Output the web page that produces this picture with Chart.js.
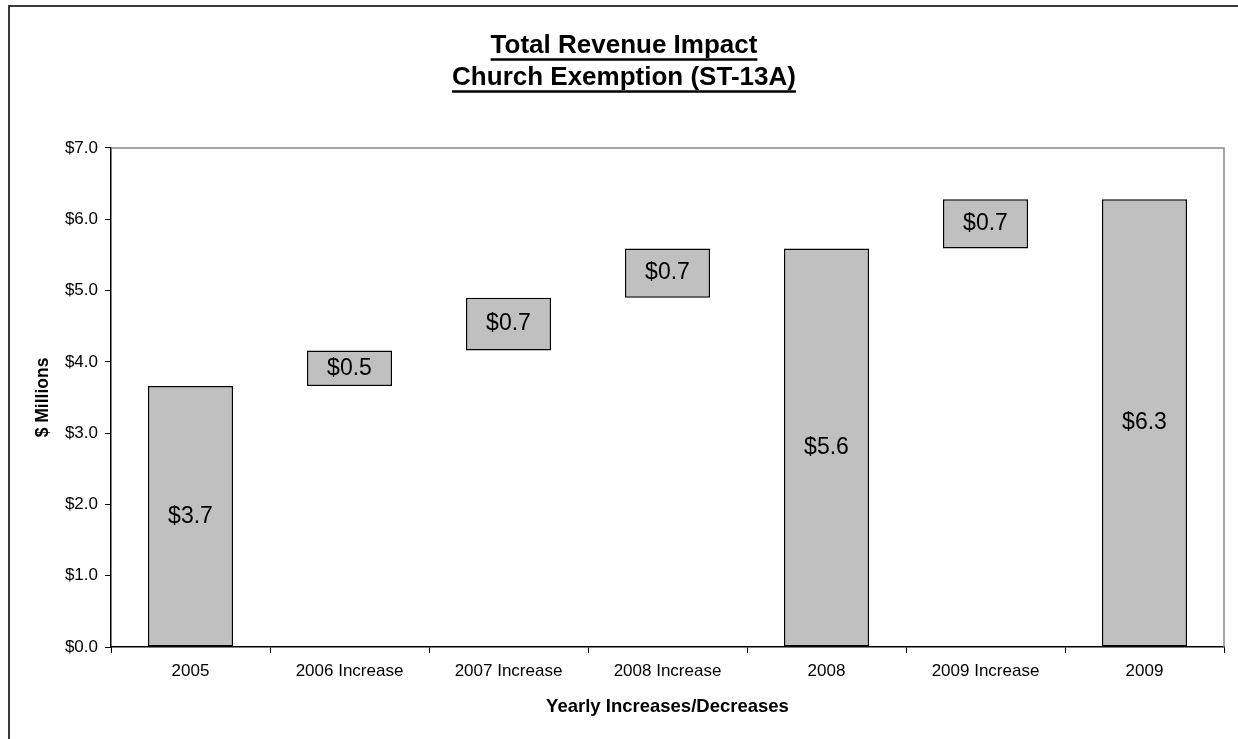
<!DOCTYPE html>
<html>
<head>
<meta charset="utf-8">
<title>Total Revenue Impact - Church Exemption (ST-13A)</title>
<script src="https://cdn.jsdelivr.net/npm/chart.js@4.4.1/dist/chart.umd.min.js"></script>
<style>
  html, body { margin: 0; padding: 0; background: #fff; }
  canvas { display: block; }
</style>
</head>
<body>
<canvas id="chart" width="1238" height="739"></canvas>
<script>
// categories of the waterfall
var categories = ["2005", "2006 Increase", "2007 Increase", "2008 Increase", "2008", "2009 Increase", "2009"];
// bottom and top of each bar, $ millions
var barBottoms = [0, 3.66, 4.16, 4.90, 0, 5.59, 0];
var barTops = [3.66, 4.16, 4.90, 5.59, 5.59, 6.28, 6.28];
var titleLines = ["Total Revenue Impact", "Church Exemption (ST-13A)"];

var FONT = "Arial, 'Liberation Sans', sans-serif";

var ranges = categories.map(function (c, i) { return [barBottoms[i], barTops[i]]; });

// frame around the whole chart + plot area border (top / right)
var framePlugin = {
  id: 'frame',
  beforeDraw: function (chart) {
    var ctx = chart.ctx;
    ctx.save();
    ctx.fillStyle = '#fff';
    ctx.fillRect(0, 0, chart.width, chart.height);
    ctx.strokeStyle = '#3a3a3a';
    ctx.lineWidth = 2;
    ctx.beginPath();
    ctx.moveTo(9, chart.height);
    ctx.lineTo(9, 6);
    ctx.lineTo(chart.width, 6);
    ctx.stroke();
    ctx.restore();
  },
  beforeDatasetsDraw: function (chart) {
    var a = chart.chartArea, ctx = chart.ctx;
    ctx.save();
    ctx.strokeStyle = '#888';
    ctx.lineWidth = 1.5;
    ctx.beginPath();
    ctx.moveTo(a.left, a.top);
    ctx.lineTo(a.right, a.top);
    ctx.lineTo(a.right, a.bottom);
    ctx.stroke();
    ctx.restore();
  }
};

// underline the two title lines
var underlinePlugin = {
  id: 'underline',
  afterDraw: function (chart) {
    var tb = chart.titleBlock, ctx = chart.ctx;
    var opts = tb.options;
    var size = opts.font.size;
    var lh = size * opts.font.lineHeight;
    var cx = (tb.left + tb.right) / 2;
    ctx.save();
    ctx.font = 'bold ' + size + 'px ' + FONT;
    ctx.strokeStyle = '#000';
    ctx.lineWidth = 2.5;
    titleLines.forEach(function (t, i) {
      var mid = tb.top + opts.padding.top + lh * (i + 0.5);
      var base = mid + 0.3465 * size;
      var w = ctx.measureText(t).width;
      ctx.beginPath();
      ctx.moveTo(cx - w / 2, base + 4.5);
      ctx.lineTo(cx + w / 2, base + 4.5);
      ctx.stroke();
    });
    ctx.restore();
  }
};

// value labels in the middle of each bar
var valueLabels = {
  id: 'valueLabels',
  afterDatasetsDraw: function (chart) {
    var ctx = chart.ctx;
    var meta = chart.getDatasetMeta(0);
    ctx.save();
    ctx.font = '23px ' + FONT;
    ctx.fillStyle = '#000';
    ctx.textAlign = 'center';
    ctx.textBaseline = 'middle';
    meta.data.forEach(function (bar, i) {
      var v = barTops[i] - barBottoms[i];
      ctx.fillText('$' + v.toFixed(1), bar.x, (bar.y + bar.base) / 2);
    });
    ctx.restore();
  }
};

new Chart(document.getElementById("chart"), {
  type: 'bar',
  data: {
    labels: categories,
    datasets: [{
      data: ranges,
      backgroundColor: '#c0c0c0',
      borderColor: '#000',
      borderWidth: 1.5,
      borderSkipped: false,
      barPercentage: 0.535,
      categoryPercentage: 1
    }]
  },
  options: {
    responsive: false,
    animation: false,
    layout: { padding: { left: 24, right: 14, top: 0, bottom: 0 } },
    plugins: {
      legend: { display: false },
      tooltip: { enabled: false },
      title: {
        display: true,
        text: titleLines,
        color: '#000',
        font: { family: FONT, size: 26, weight: 'bold', lineHeight: 1.23 },
        padding: { top: 30, bottom: 54 }
      }
    },
    scales: {
      x: {
        afterFit: function (s) { s.height = 92; },
        grid: { offset: true, drawOnChartArea: false, drawTicks: true, tickLength: 6, color: '#000', lineWidth: 1 },
        border: { color: '#000', width: 1.5 },
        ticks: { color: '#000', padding: 8.6, maxRotation: 0, font: { family: FONT, size: 17 } },
        title: {
          display: true,
          text: 'Yearly Increases/Decreases',
          color: '#000',
          font: { family: FONT, size: 18.5, weight: 'bold' },
          padding: { top: 0, bottom: 21 }
        }
      },
      y: {
        min: 0,
        max: 7,
        afterFit: function (s) { s.width = 87; },
        grid: { drawOnChartArea: false, drawTicks: true, tickLength: 6, color: '#000', lineWidth: 1 },
        border: { color: '#000', width: 1.5 },
        ticks: {
          stepSize: 1,
          color: '#000',
          padding: 7,
          font: { family: FONT, size: 17 },
          callback: function (v) { return '$' + Number(v).toFixed(1); }
        },
        title: {
          display: true,
          text: '$ Millions',
          color: '#000',
          font: { family: FONT, size: 17.5, weight: 'bold' },
          padding: { top: 8.5, bottom: 0 }
        }
      }
    }
  },
  plugins: [framePlugin, underlinePlugin, valueLabels]
});
</script>
</body>
</html>
